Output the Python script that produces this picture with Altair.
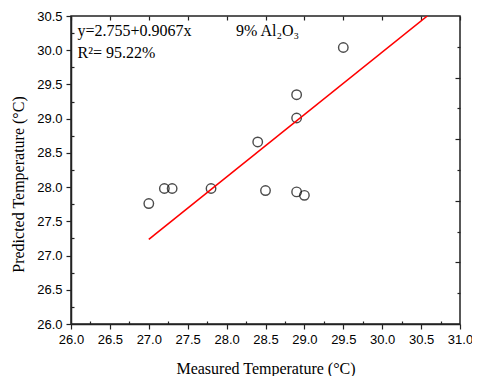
import altair as alt
import pandas as pd

measured = [27.0, 27.2, 27.3, 27.8, 28.4, 28.5, 28.9, 28.9, 28.9, 29.0, 29.5]
predicted = [27.76, 27.98, 27.98, 27.98, 28.66, 27.95, 29.35, 29.01, 27.93, 27.88, 30.04]
fit_x = [27.0, 30.58]
fit_y = [27.236, 30.5]

x_major = [26.0, 26.5, 27.0, 27.5, 28.0, 28.5, 29.0, 29.5, 30.0, 30.5, 31.0]
x_minor = [26.25, 26.75, 27.25, 27.75, 28.25, 28.75, 29.25, 29.75, 30.25, 30.75]
y_major = [26.0, 26.5, 27.0, 27.5, 28.0, 28.5, 29.0, 29.5, 30.0, 30.5]
y_minor = [26.25, 26.75, 27.25, 27.75, 28.25, 28.75, 29.25, 29.75, 30.25]
right_long = [29.6, 28.7, 27.8, 26.9]
right_short = [30.05, 29.15, 28.25, 27.35, 26.45]

W, H = 389, 308
pts = pd.DataFrame({"m": measured, "p": predicted})
fit = pd.DataFrame({"m": fit_x, "p": fit_y})

xs = alt.Scale(domain=[26, 31], nice=False, zero=False)
ys = alt.Scale(domain=[26, 30.5], nice=False, zero=False)

lab = dict(labelFont="Liberation Sans", labelFontSize=13, labelColor="black",
           tickColor="#222", grid=False, labelFlush=False, labelOverlap=False)
helper = dict(labels=False, domain=False, grid=False, tickColor="#222", title=None)

points = alt.Chart(pts).mark_point(shape="circle", filled=False, color="black",
                                   size=90, strokeWidth=1.4).encode(
    x=alt.X("m:Q", scale=xs, axis=alt.Axis(
        values=x_major, format=".1f", tickSize=5, labelPadding=4,
        domainColor="#222", domainWidth=1.5, tickWidth=1.2,
        title="Measured Temperature (°C)", titleFont="Liberation Serif",
        titleFontSize=16, titleFontWeight="normal", titleColor="black",
        titleY=44, titleBaseline="middle", **lab)),
    y=alt.Y("p:Q", scale=ys, axis=alt.Axis(
        values=y_major, format=".1f", tickSize=5, labelPadding=4,
        domainColor="#222", domainWidth=1.5, tickWidth=1.2,
        title="Predicted Temperature (°C)", titleFont="Liberation Serif",
        titleFontSize=16, titleFontWeight="normal", titleColor="black",
        titleX=-53, titleY=168, titleBaseline="middle", **lab)),
)

line = alt.Chart(fit).mark_line(color="#ff0000", strokeWidth=1.6, clip=True).encode(
    x=alt.X("m:Q", scale=xs, axis=alt.Axis(orient="bottom", offset=-H, values=x_major,
                                         tickSize=4, tickWidth=1.2, **helper)),
    y=alt.Y("p:Q", scale=ys, axis=alt.Axis(orient="left", offset=-W, values=right_long,
                                         tickSize=5, tickWidth=1.2, **helper)),
)

minor = alt.Chart(pts).mark_point(opacity=0).encode(
    x=alt.X("m:Q", scale=xs, axis=alt.Axis(orient="top", offset=-H, values=x_minor,
                                         tickSize=3, tickWidth=1.2, **helper)),
    y=alt.Y("p:Q", scale=ys, axis=alt.Axis(orient="right", offset=-W, values=y_minor,
                                         tickSize=3, tickWidth=1.2, **helper)),
)

rshort = alt.Chart(pts).mark_point(opacity=0).encode(
    x=alt.X("m:Q", scale=xs, axis=None),
    y=alt.Y("p:Q", scale=ys, axis=alt.Axis(orient="left", offset=-W, values=right_short,
                                         tickSize=3, tickWidth=1.2, **helper)),
)

ann = pd.DataFrame({"t": ["y=2.755+0.9067x", "R²= 95.22%", "9% Al₂O₃"],
                    "px": [6.5, 6.5, 165], "py": [15, 37, 15]})
texts = alt.Chart(ann).mark_text(font="Liberation Serif", fontSize=16, color="black",
                                 align="left", baseline="middle").encode(
    x=alt.X("px:Q", scale=None), y=alt.Y("py:Q", scale=None), text="t:N")

chart = alt.layer(points, line, minor, rshort, texts).resolve_axis(
    x="independent", y="independent"
).properties(
    width=W, height=H,
    autosize=alt.AutoSizeParams(type="none"),
    padding={"left": 63, "top": 8, "right": 12, "bottom": 52},
).configure_view(stroke="#222", strokeWidth=1.5)

chart.save("out.html", embed_options={"renderer": "svg", "actions": False})
